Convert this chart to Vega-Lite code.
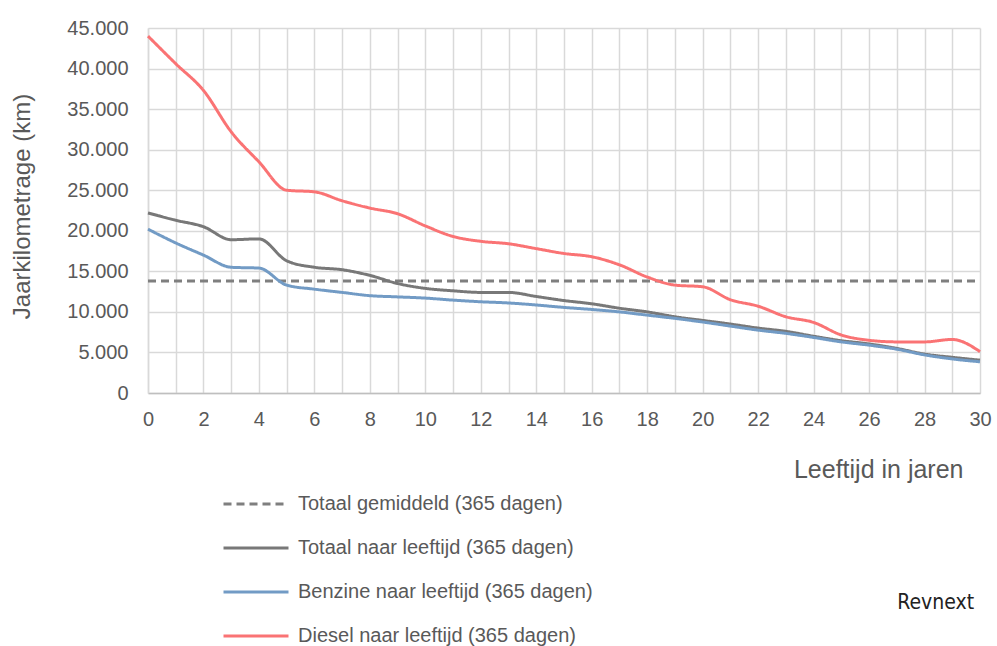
{
  "$schema": "https://vega.github.io/schema/vega-lite/v6.json",
  "width": 832,
  "height": 365,
  "autosize": {"type": "none"},
  "padding": {"left": 148, "top": 28, "right": 17, "bottom": 253},
  "background": "white",
  "config": {
    "locale": {"number": {"decimal": ",", "thousands": ".", "grouping": [3], "currency": ["€", ""]}},
    "font": "Liberation Sans",
    "view": {"stroke": null}
  },
  "title": {
    "text": "Revnext",
    "orient": "bottom",
    "anchor": "end",
    "offset": 0,
    "dy": -54,
    "dx": -17,
    "fontSize": 21,
    "fontWeight": "normal",
    "color": "#222222",
    "font": "DejaVu Sans Condensed"
  },
  "data": {
    "values": [
      {"series": "Totaal gemiddeld (365 dagen)", "year": 0, "km": 13800},
      {"series": "Totaal gemiddeld (365 dagen)", "year": 30, "km": 13800},

      {"series": "Totaal naar leeftijd (365 dagen)", "year": 0, "km": 22200},
      {"series": "Totaal naar leeftijd (365 dagen)", "year": 1, "km": 21300},
      {"series": "Totaal naar leeftijd (365 dagen)", "year": 2, "km": 20500},
      {"series": "Totaal naar leeftijd (365 dagen)", "year": 3, "km": 18900},
      {"series": "Totaal naar leeftijd (365 dagen)", "year": 4, "km": 19000},
      {"series": "Totaal naar leeftijd (365 dagen)", "year": 5, "km": 16300},
      {"series": "Totaal naar leeftijd (365 dagen)", "year": 6, "km": 15500},
      {"series": "Totaal naar leeftijd (365 dagen)", "year": 7, "km": 15200},
      {"series": "Totaal naar leeftijd (365 dagen)", "year": 8, "km": 14500},
      {"series": "Totaal naar leeftijd (365 dagen)", "year": 9, "km": 13500},
      {"series": "Totaal naar leeftijd (365 dagen)", "year": 10, "km": 12900},
      {"series": "Totaal naar leeftijd (365 dagen)", "year": 11, "km": 12600},
      {"series": "Totaal naar leeftijd (365 dagen)", "year": 12, "km": 12400},
      {"series": "Totaal naar leeftijd (365 dagen)", "year": 13, "km": 12400},
      {"series": "Totaal naar leeftijd (365 dagen)", "year": 14, "km": 11900},
      {"series": "Totaal naar leeftijd (365 dagen)", "year": 15, "km": 11400},
      {"series": "Totaal naar leeftijd (365 dagen)", "year": 16, "km": 11000},
      {"series": "Totaal naar leeftijd (365 dagen)", "year": 17, "km": 10450},
      {"series": "Totaal naar leeftijd (365 dagen)", "year": 18, "km": 10000},
      {"series": "Totaal naar leeftijd (365 dagen)", "year": 19, "km": 9400},
      {"series": "Totaal naar leeftijd (365 dagen)", "year": 20, "km": 8950},
      {"series": "Totaal naar leeftijd (365 dagen)", "year": 21, "km": 8500},
      {"series": "Totaal naar leeftijd (365 dagen)", "year": 22, "km": 8000},
      {"series": "Totaal naar leeftijd (365 dagen)", "year": 23, "km": 7600},
      {"series": "Totaal naar leeftijd (365 dagen)", "year": 24, "km": 7000},
      {"series": "Totaal naar leeftijd (365 dagen)", "year": 25, "km": 6450},
      {"series": "Totaal naar leeftijd (365 dagen)", "year": 26, "km": 6050},
      {"series": "Totaal naar leeftijd (365 dagen)", "year": 27, "km": 5500},
      {"series": "Totaal naar leeftijd (365 dagen)", "year": 28, "km": 4800},
      {"series": "Totaal naar leeftijd (365 dagen)", "year": 29, "km": 4400},
      {"series": "Totaal naar leeftijd (365 dagen)", "year": 30, "km": 4050},

      {"series": "Benzine naar leeftijd (365 dagen)", "year": 0, "km": 20200},
      {"series": "Benzine naar leeftijd (365 dagen)", "year": 1, "km": 18500},
      {"series": "Benzine naar leeftijd (365 dagen)", "year": 2, "km": 17000},
      {"series": "Benzine naar leeftijd (365 dagen)", "year": 3, "km": 15500},
      {"series": "Benzine naar leeftijd (365 dagen)", "year": 4, "km": 15400},
      {"series": "Benzine naar leeftijd (365 dagen)", "year": 5, "km": 13300},
      {"series": "Benzine naar leeftijd (365 dagen)", "year": 6, "km": 12800},
      {"series": "Benzine naar leeftijd (365 dagen)", "year": 7, "km": 12400},
      {"series": "Benzine naar leeftijd (365 dagen)", "year": 8, "km": 12000},
      {"series": "Benzine naar leeftijd (365 dagen)", "year": 9, "km": 11850},
      {"series": "Benzine naar leeftijd (365 dagen)", "year": 10, "km": 11700},
      {"series": "Benzine naar leeftijd (365 dagen)", "year": 11, "km": 11450},
      {"series": "Benzine naar leeftijd (365 dagen)", "year": 12, "km": 11250},
      {"series": "Benzine naar leeftijd (365 dagen)", "year": 13, "km": 11100},
      {"series": "Benzine naar leeftijd (365 dagen)", "year": 14, "km": 10850},
      {"series": "Benzine naar leeftijd (365 dagen)", "year": 15, "km": 10550},
      {"series": "Benzine naar leeftijd (365 dagen)", "year": 16, "km": 10300},
      {"series": "Benzine naar leeftijd (365 dagen)", "year": 17, "km": 10000},
      {"series": "Benzine naar leeftijd (365 dagen)", "year": 18, "km": 9600},
      {"series": "Benzine naar leeftijd (365 dagen)", "year": 19, "km": 9200},
      {"series": "Benzine naar leeftijd (365 dagen)", "year": 20, "km": 8750},
      {"series": "Benzine naar leeftijd (365 dagen)", "year": 21, "km": 8250},
      {"series": "Benzine naar leeftijd (365 dagen)", "year": 22, "km": 7750},
      {"series": "Benzine naar leeftijd (365 dagen)", "year": 23, "km": 7350},
      {"series": "Benzine naar leeftijd (365 dagen)", "year": 24, "km": 6850},
      {"series": "Benzine naar leeftijd (365 dagen)", "year": 25, "km": 6300},
      {"series": "Benzine naar leeftijd (365 dagen)", "year": 26, "km": 5900},
      {"series": "Benzine naar leeftijd (365 dagen)", "year": 27, "km": 5400},
      {"series": "Benzine naar leeftijd (365 dagen)", "year": 28, "km": 4700},
      {"series": "Benzine naar leeftijd (365 dagen)", "year": 29, "km": 4200},
      {"series": "Benzine naar leeftijd (365 dagen)", "year": 30, "km": 3850},

      {"series": "Diesel naar leeftijd (365 dagen)", "year": 0, "km": 44000},
      {"series": "Diesel naar leeftijd (365 dagen)", "year": 1, "km": 40600},
      {"series": "Diesel naar leeftijd (365 dagen)", "year": 2, "km": 37300},
      {"series": "Diesel naar leeftijd (365 dagen)", "year": 3, "km": 32200},
      {"series": "Diesel naar leeftijd (365 dagen)", "year": 4, "km": 28500},
      {"series": "Diesel naar leeftijd (365 dagen)", "year": 5, "km": 25000},
      {"series": "Diesel naar leeftijd (365 dagen)", "year": 6, "km": 24800},
      {"series": "Diesel naar leeftijd (365 dagen)", "year": 7, "km": 23700},
      {"series": "Diesel naar leeftijd (365 dagen)", "year": 8, "km": 22800},
      {"series": "Diesel naar leeftijd (365 dagen)", "year": 9, "km": 22100},
      {"series": "Diesel naar leeftijd (365 dagen)", "year": 10, "km": 20600},
      {"series": "Diesel naar leeftijd (365 dagen)", "year": 11, "km": 19300},
      {"series": "Diesel naar leeftijd (365 dagen)", "year": 12, "km": 18700},
      {"series": "Diesel naar leeftijd (365 dagen)", "year": 13, "km": 18400},
      {"series": "Diesel naar leeftijd (365 dagen)", "year": 14, "km": 17800},
      {"series": "Diesel naar leeftijd (365 dagen)", "year": 15, "km": 17200},
      {"series": "Diesel naar leeftijd (365 dagen)", "year": 16, "km": 16800},
      {"series": "Diesel naar leeftijd (365 dagen)", "year": 17, "km": 15800},
      {"series": "Diesel naar leeftijd (365 dagen)", "year": 18, "km": 14300},
      {"series": "Diesel naar leeftijd (365 dagen)", "year": 19, "km": 13300},
      {"series": "Diesel naar leeftijd (365 dagen)", "year": 20, "km": 13100},
      {"series": "Diesel naar leeftijd (365 dagen)", "year": 21, "km": 11500},
      {"series": "Diesel naar leeftijd (365 dagen)", "year": 22, "km": 10700},
      {"series": "Diesel naar leeftijd (365 dagen)", "year": 23, "km": 9400},
      {"series": "Diesel naar leeftijd (365 dagen)", "year": 24, "km": 8700},
      {"series": "Diesel naar leeftijd (365 dagen)", "year": 25, "km": 7150},
      {"series": "Diesel naar leeftijd (365 dagen)", "year": 26, "km": 6500},
      {"series": "Diesel naar leeftijd (365 dagen)", "year": 27, "km": 6300},
      {"series": "Diesel naar leeftijd (365 dagen)", "year": 28, "km": 6300},
      {"series": "Diesel naar leeftijd (365 dagen)", "year": 29, "km": 6600},
      {"series": "Diesel naar leeftijd (365 dagen)", "year": 30, "km": 5100}
    ]
  },
  "mark": {"type": "line", "interpolate": "monotone", "strokeWidth": 3, "strokeCap": "butt"},
  "encoding": {
    "x": {
      "field": "year",
      "type": "quantitative",
      "scale": {"domain": [0, 30], "nice": false, "zero": false},
      "axis": {
        "values": [0,1,2,3,4,5,6,7,8,9,10,11,12,13,14,15,16,17,18,19,20,21,22,23,24,25,26,27,28,29,30],
        "labelExpr": "datum.value % 2 == 0 ? datum.label : ''",
        "ticks": false,
        "grid": true,
        "gridColor": "#D9D9D9",
        "gridWidth": 1.5,
        "domainColor": "#BFBFBF",
        "domainWidth": 1.5,
        "labelFont": "Liberation Sans",
        "labelFontSize": 20,
        "labelColor": "#595959",
        "labelPadding": 16,
        "labelFlush": false,
        "title": "Leeftijd in jaren",
        "titleFont": "Liberation Sans",
        "titleFontSize": 25,
        "titleFontWeight": "normal",
        "titleColor": "#595959",
        "titleAnchor": "end",
        "titleAlign": "right",
        "titleBaseline": "middle",
        "titleX": 815,
        "titleY": 76
      }
    },
    "y": {
      "field": "km",
      "type": "quantitative",
      "scale": {"domain": [0, 45000], "nice": false},
      "axis": {
        "values": [0,5000,10000,15000,20000,25000,30000,35000,40000,45000],
        "format": ",d",
        "ticks": false,
        "grid": true,
        "gridColor": "#D9D9D9",
        "gridWidth": 1.5,
        "domainColor": "#D9D9D9",
        "domainWidth": 1.5,
        "labelFont": "Liberation Sans",
        "labelFontSize": 20,
        "labelColor": "#595959",
        "labelPadding": 20,
        "title": "Jaarkilometrage (km)",
        "titleFont": "Liberation Sans",
        "titleFontSize": 24,
        "titleFontWeight": "normal",
        "titleColor": "#595959",
        "titleAngle": -90,
        "titleBaseline": "middle",
        "titleAlign": "center",
        "titleX": -126,
        "titleY": 178
      }
    },
    "color": {
      "field": "series",
      "type": "nominal",
      "scale": {
        "domain": ["Totaal gemiddeld (365 dagen)", "Totaal naar leeftijd (365 dagen)", "Benzine naar leeftijd (365 dagen)", "Diesel naar leeftijd (365 dagen)"],
        "range": ["#7F7F7F", "#787878", "#729BC5", "#FA7374"]
      },
      "legend": {
        "orient": "none",
        "legendX": 74,
        "legendY": 442,
        "title": null,
        "symbolType": "stroke",
        "symbolSize": 4225,
        "symbolStrokeWidth": 3,
        "labelFont": "Liberation Sans",
        "labelFontSize": 20,
        "labelColor": "#595959",
        "labelOffset": 8,
        "rowPadding": 0,
        "labelLimit": 400
      }
    },
    "strokeDash": {
      "field": "series",
      "type": "nominal",
      "scale": {
        "domain": ["Totaal gemiddeld (365 dagen)", "Totaal naar leeftijd (365 dagen)", "Benzine naar leeftijd (365 dagen)", "Diesel naar leeftijd (365 dagen)"],
        "range": [[8, 5], [1, 0], [1, 0], [1, 0]]
      },
      "legend": {
        "orient": "none",
        "legendX": 74,
        "legendY": 442,
        "title": null,
        "symbolType": "stroke",
        "symbolSize": 4225,
        "symbolStrokeWidth": 3,
        "labelFont": "Liberation Sans",
        "labelFontSize": 20,
        "labelColor": "#595959",
        "labelOffset": 8,
        "rowPadding": 0,
        "labelLimit": 400
      }
    }
  }
}
